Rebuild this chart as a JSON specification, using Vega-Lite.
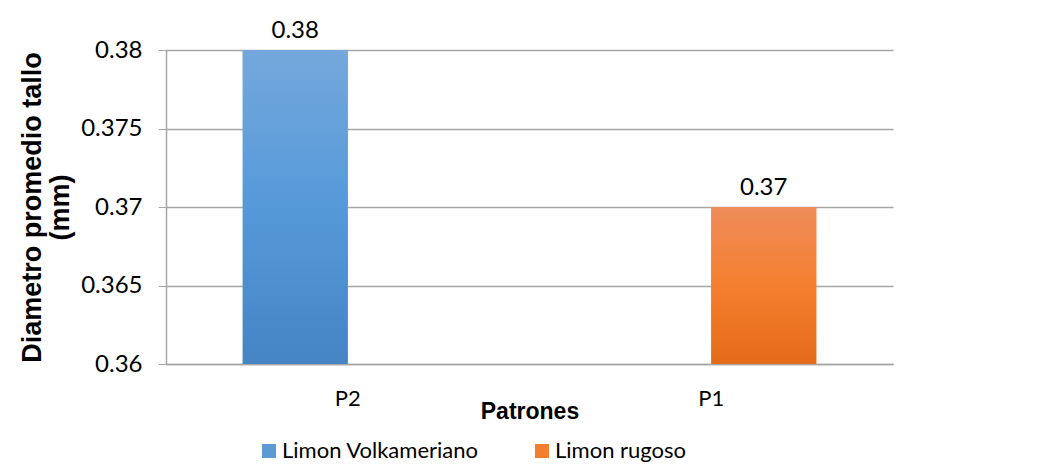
{
  "$schema": "https://vega.github.io/schema/vega-lite/v6.json",
  "width": 727,
  "height": 314,
  "autosize": "none",
  "padding": {"left": 166, "top": 50, "right": 144, "bottom": 102},
  "background": "white",
  "data": {
    "values": [
      {"patron": "P2", "serie": "Limon Volkameriano", "valor": 0.38},
      {"patron": "P1", "serie": "Limon rugoso", "valor": 0.37}
    ]
  },
  "config": {
    "view": {"stroke": null},
    "font": "Lato"
  },
  "encoding": {
    "x": {
      "field": "patron",
      "type": "nominal",
      "sort": ["P2", "P1"],
      "scale": {"paddingInner": 0, "paddingOuter": 0},
      "axis": {
        "title": "Patrones",
        "titleFont": "Liberation Sans",
        "titleFontWeight": "bold",
        "titleFontSize": 23,
        "titleColor": "black",
        "titlePadding": -9,
        "labelAngle": 0,
        "labelFontSize": 22,
        "labelColor": "black",
        "labelPadding": 24,
        "ticks": false,
        "domainColor": "#a6a6a6",
        "domainWidth": 1.5
      }
    },
    "xOffset": {
      "field": "serie",
      "type": "nominal",
      "sort": ["Limon Volkameriano", "Limon rugoso"],
      "scale": {"paddingInner": 0, "paddingOuter": 0.731}
    },
    "y": {
      "field": "valor",
      "type": "quantitative",
      "scale": {"domain": [0.36, 0.38], "zero": false, "nice": false},
      "axis": {
        "values": [0.36, 0.365, 0.37, 0.375, 0.38],
        "format": "~g",
        "title": ["Diametro promedio tallo", "(mm)"],
        "titleFont": "Liberation Sans",
        "titleFontWeight": "bold",
        "titleFontSize": 27,
        "titleLineHeight": 28,
        "titleColor": "black",
        "titlePadding": 6,
        "labelFontSize": 24,
        "labelColor": "black",
        "labelPadding": 16,
        "tickSize": 8,
        "tickColor": "#a6a6a6",
        "domainColor": "#a6a6a6",
        "domainWidth": 1.5,
        "gridColor": "#a6a6a6",
        "gridWidth": 1.5
      }
    }
  },
  "layer": [
    {
      "mark": {"type": "bar", "width": {"band": 1}},
      "encoding": {
        "y2": {"datum": 0.36},
        "color": {
          "field": "serie",
          "type": "nominal",
          "sort": ["Limon Volkameriano", "Limon rugoso"],
          "scale": {"range": ["#5B9BD5", "#F47E2F"]},
          "legend": {
            "title": null,
            "orient": "none",
            "direction": "horizontal",
            "legendX": 92,
            "legendY": 390,
            "symbolType": "square",
            "symbolSize": 196,
            "symbolStrokeWidth": 0,
            "symbolOpacity": 1,
            "labelFontSize": 22,
            "labelColor": "black",
            "labelOffset": 2,
            "columnPadding": 52,
            "labelLimit": 400
          }
        }
      }
    },
    {
      "mark": {"type": "bar", "width": {"band": 1}},
      "encoding": {
        "y2": {"datum": 0.36},
        "fill": {
          "condition": {
            "test": "datum.serie === 'Limon Volkameriano'",
            "value": {
              "gradient": "linear", "x1": 0, "y1": 0, "x2": 0, "y2": 1,
              "stops": [
                {"offset": 0, "color": "#74A8DC"},
                {"offset": 0.5, "color": "#5599D9"},
                {"offset": 1, "color": "#4684C4"}
              ]
            }
          },
          "value": {
            "gradient": "linear", "x1": 0, "y1": 0, "x2": 0, "y2": 1,
            "stops": [
              {"offset": 0, "color": "#EF8C5A"},
              {"offset": 0.5, "color": "#F47F2E"},
              {"offset": 1, "color": "#E46B19"}
            ]
          }
        }
      }
    },
    {
      "mark": {"type": "text", "dy": -12, "fontSize": 24, "color": "black", "baseline": "alphabetic"},
      "encoding": {
        "text": {"field": "valor", "type": "quantitative", "format": ".2f"}
      }
    }
  ]
}
